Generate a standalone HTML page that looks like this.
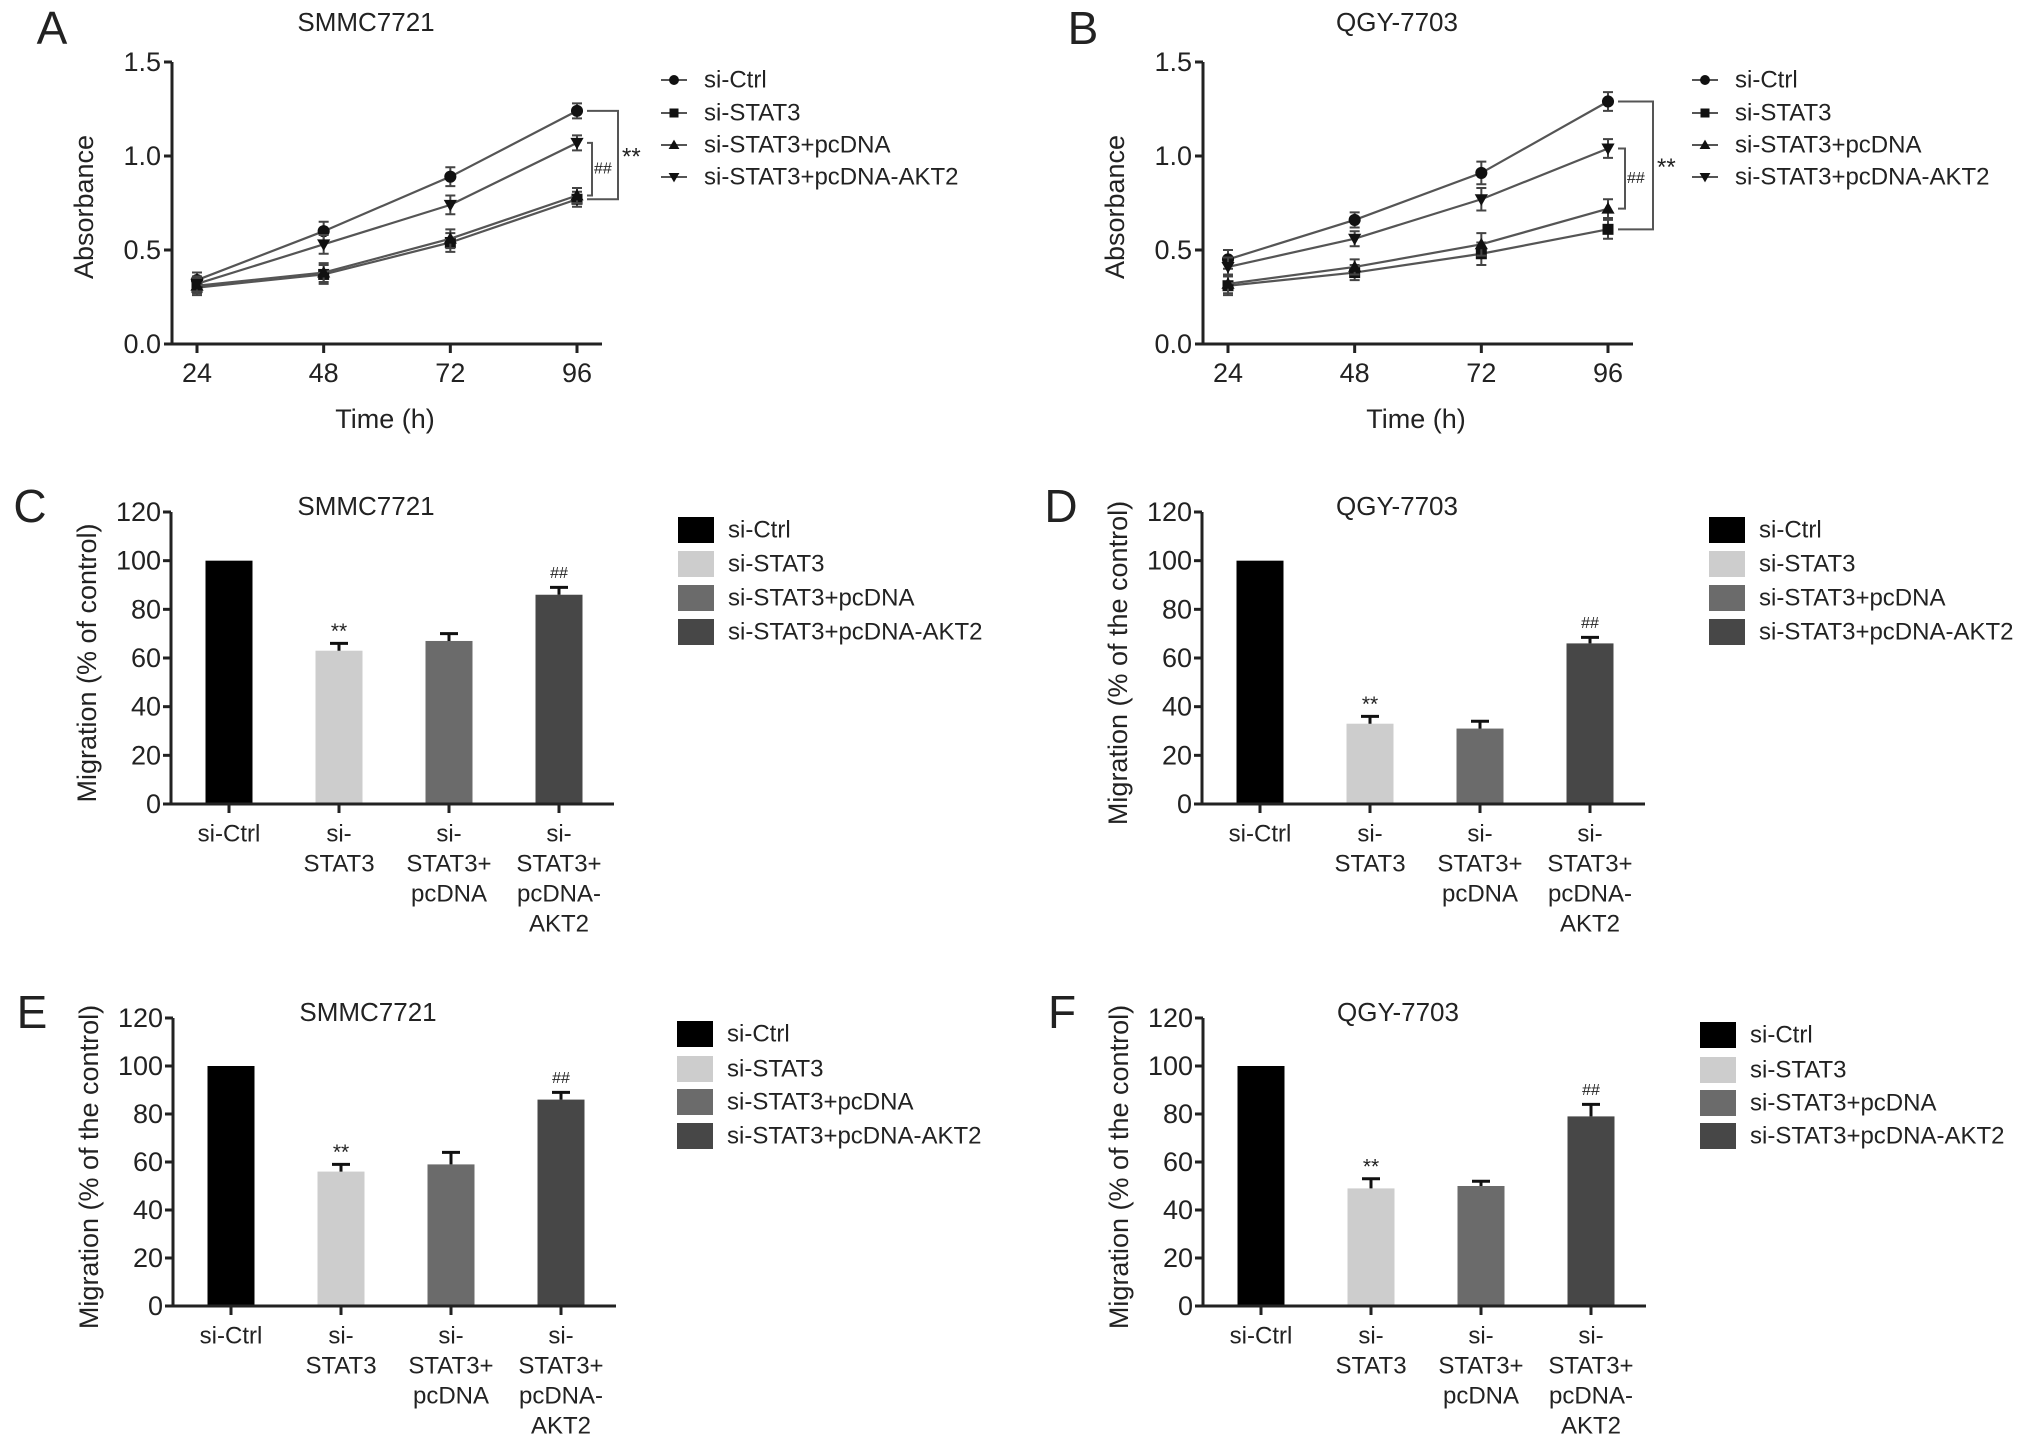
<!DOCTYPE html>
<html><head><meta charset="utf-8"><style>
html,body{margin:0;padding:0;background:#fff}
svg{display:block}
text{font-family:"Liberation Sans",Arial,sans-serif;fill:#222}
</style></head><body>
<svg id="fig" width="2032" height="1447" viewBox="0 0 2032 1447" xmlns="http://www.w3.org/2000/svg"></svg>
<script>
// ---- data ----
const timeCats = [24, 48, 72, 96];
const absTicks = [0.0, 0.5, 1.0, 1.5];
const seriesNames = ['si-Ctrl', 'si-STAT3', 'si-STAT3+pcDNA', 'si-STAT3+pcDNA-AKT2'];
const A_ctrl = [0.34, 0.60, 0.89, 1.24];
const A_stat3 = [0.30, 0.37, 0.54, 0.77];
const A_pcdna = [0.31, 0.38, 0.56, 0.79];
const A_akt2 = [0.32, 0.53, 0.74, 1.07];
const A_err = [0.04, 0.05, 0.05, 0.04];
const B_ctrl = [0.45, 0.66, 0.91, 1.29];
const B_stat3 = [0.31, 0.38, 0.48, 0.61];
const B_pcdna = [0.32, 0.41, 0.53, 0.72];
const B_akt2 = [0.41, 0.56, 0.77, 1.04];
const B_err = [0.05, 0.04, 0.06, 0.05];
const barCats = [['si-Ctrl'], ['si-', 'STAT3'], ['si-', 'STAT3+', 'pcDNA'], ['si-', 'STAT3+', 'pcDNA-', 'AKT2']];
const migTicks = [0, 20, 40, 60, 80, 100, 120];
const C_vals = [100, 63, 67, 86];
const C_err = [0, 3, 3, 3];
const D_vals = [100, 33, 31, 66];
const D_err = [0, 3, 3, 2.5];
const E_vals = [100, 56, 59, 86];
const E_err = [0, 3, 5, 3];
const F_vals = [100, 49, 50, 79];
const F_err = [0, 4, 2, 5];
const barColors = ['#000000', '#cdcdcd', '#6b6b6b', '#474747'];
const barMarks = ['', '**', '', '##'];

const NS = 'http://www.w3.org/2000/svg';
const svg = document.getElementById('fig');
function mk(tag, attrs, parent, txt) {
  const e = document.createElementNS(NS, tag);
  for (const k in attrs) e.setAttribute(k, attrs[k]);
  if (txt !== undefined) e.textContent = txt;
  (parent || svg).appendChild(e);
  return e;
}
function txt(x, y, s, size, anchor, parent, extra) {
  const a = Object.assign({x: x, y: y, 'font-size': size, 'text-anchor': anchor || 'start', 'dominant-baseline': 'central'}, extra || {});
  return mk('text', a, parent, s);
}
function marker(g, kind, x, y, s) {
  let e;
  if (kind === 0) e = mk('circle', {cx: x, cy: y, r: s * 0.55, fill: '#111'}, g);
  else if (kind === 1) e = mk('rect', {x: x - s / 2, y: y - s / 2, width: s, height: s, fill: '#111'}, g);
  else if (kind === 2) e = mk('polygon', {points: `${x},${y - s * 0.6} ${x - s * 0.6},${y + s * 0.45} ${x + s * 0.6},${y + s * 0.45}`, fill: '#111'}, g);
  else e = mk('polygon', {points: `${x},${y + s * 0.6} ${x - s * 0.6},${y - s * 0.45} ${x + s * 0.6},${y - s * 0.45}`, fill: '#111'}, g);
  return e;
}

function linePanel(id, ax, letter, title, series, err, br) {
  const g = mk('g', {});
  
  
  const y0 = 344, yTop = 62;
  const xs = v => ax + 25 + (v - 24) / 72 * 380;
  const ys = v => y0 - v / 1.5 * (y0 - yTop);
  const lab = txt(ax - 120, 28, letter, 46, 'middle', g);
  
  
  const t = txt(ax + 194, 22, title, 26, 'middle', g);
  
  
  const axes = mk('path', {d: `M${ax},${yTop} V${y0} H${ax + 430}`, stroke: '#222', 'stroke-width': 3, fill: 'none'}, g);
  
  
  absTicks.forEach(v => {
    mk('line', {x1: ax - 8, x2: ax, y1: ys(v), y2: ys(v), stroke: '#222', 'stroke-width': 3}, g);
    const tl = txt(ax - 11, ys(v), v.toFixed(1), 27, 'end', g);
    
    
  });
  timeCats.forEach(c => {
    mk('line', {x1: xs(c), x2: xs(c), y1: y0, y2: y0 + 9, stroke: '#222', 'stroke-width': 3}, g);
    const tl = txt(xs(c), 373, String(c), 27, 'middle', g);
    
    
  });
  const xt = txt(ax + 213, 419, 'Time (h)', 27, 'middle', g);
  
  
  const yt = txt(0, 0, 'Absorbance', 27, 'middle', g, {transform: `translate(${ax - 88},207) rotate(-90)`});
  
  
  series.forEach((vals, k) => {
    const sg = mk('g', {}, g);
    
    
    const pts = vals.map((v, i) => `${xs(timeCats[i])},${ys(v)}`).join(' ');
    mk('polyline', {points: pts, fill: 'none', stroke: '#555', 'stroke-width': 2.2}, sg);
    vals.forEach((v, i) => {
      const x = xs(timeCats[i]);
      const e = err[i];
      mk('path', {d: `M${x},${ys(v + e)} V${ys(v - e)} M${x - 5},${ys(v + e)} H${x + 5} M${x - 5},${ys(v - e)} H${x + 5}`, stroke: '#444', 'stroke-width': 2, fill: 'none'}, sg);
      const m = marker(sg, k, x, ys(v), 11);
      
      
    });
  });
  const last = series.map(s => s[3]);
  const bg = mk('g', {}, g);
  
  
  const xo = ax + br[0], xi = ax + br[1];
  mk('path', {d: `M${xs(96) + 10},${ys(last[0])} H${xo} V${ys(last[1])} H${xs(96) + 10}`, stroke: '#555', 'stroke-width': 2, fill: 'none'}, bg);
  mk('path', {d: `M${xs(96) + 10},${ys(last[3])} H${xi} V${ys(last[2])} H${xs(96) + 10}`, stroke: '#555', 'stroke-width': 2, fill: 'none'}, bg);
  txt(xo + 4, (ys(last[0]) + ys(last[1])) / 2 + 2, '**', 24, 'start', bg);
  txt(xi + 2, (ys(last[3]) + ys(last[2])) / 2, '##', 16, 'start', bg, {fill: '#777'});
  const lg = mk('g', {}, g);
  
  
  const lx = ax + 489;
  [80, 113, 145, 177].forEach((y, k) => {
    const eg = mk('g', {}, lg);
    
    
    mk('line', {x1: lx, x2: lx + 26, y1: y, y2: y, stroke: '#555', 'stroke-width': 2}, eg);
    marker(eg, k, lx + 13, y, 9);
    txt(lx + 43, y, seriesNames[k], 24, 'start', eg);
  });
}

function barPanel(id, ax, y0, yTop, letter, title, ytitle, vals, err, legY, legX) {
  const g = mk('g', {});
  
  
  const ys = v => y0 - v / 120 * (y0 - yTop);
  const xc = i => ax + 58 + 110 * i;
  const lab = txt(ax - 141, yTop - 6, letter, 46, 'middle', g);
  
  
  const t = txt(ax + 195, yTop - 6, title, 26, 'middle', g);
  
  
  vals.forEach((v, i) => {
    const x = xc(i);
    const b = mk('rect', {x: x - 23.5, y: ys(v), width: 47, height: y0 - ys(v), fill: barColors[i]}, g);
    
    
    if (err[i] > 0) {
      mk('path', {d: `M${x},${ys(v)} V${ys(v + err[i])} M${x - 9},${ys(v + err[i])} H${x + 9}`, stroke: '#111', 'stroke-width': 3, fill: 'none'}, g);
    }
    if (barMarks[i]) {
      const sm = txt(x, ys(v + err[i]) - (barMarks[i] === '**' ? 12 : 14), barMarks[i], barMarks[i] === '**' ? 21 : 16, 'middle', g, barMarks[i] === '##' ? {fill: '#777'} : {});
      
      
    }
  });
  const axes = mk('path', {d: `M${ax},${yTop} V${y0} H${ax + 443}`, stroke: '#222', 'stroke-width': 3, fill: 'none'}, g);
  
  
  migTicks.forEach(v => {
    mk('line', {x1: ax - 8, x2: ax, y1: ys(v), y2: ys(v), stroke: '#222', 'stroke-width': 3}, g);
    const tl = txt(ax - 10, ys(v), String(v), 27, 'end', g);
    
    
  });
  barCats.forEach((lines, i) => {
    mk('line', {x1: xc(i), x2: xc(i), y1: y0, y2: y0 + 9, stroke: '#222', 'stroke-width': 3}, g);
    lines.forEach((s, j) => {
      const tl = txt(xc(i), y0 + 30 + 30 * j, s, 24, 'middle', g);
      
      
    });
  });
  const yt = txt(0, 0, ytitle, 27, 'middle', g, {transform: `translate(${ax - 84},${(y0 + yTop) / 2 + 5}) rotate(-90)`});
  
  
  const lg = mk('g', {}, g);
  
  
  const lx = legX;
  legY.forEach((y, k) => {
    const eg = mk('g', {}, lg);
    
    
    mk('rect', {x: lx, y: y - 13, width: 36, height: 26, fill: barColors[k]}, eg);
    txt(lx + 50, y, seriesNames[k], 24, 'start', eg);
  });
}

linePanel('a', 172, 'A', 'SMMC7721', [A_ctrl, A_stat3, A_pcdna, A_akt2], A_err, [446, 420]);
linePanel('b', 1203, 'B', 'QGY-7703', [B_ctrl, B_stat3, B_pcdna, B_akt2], B_err, [450, 422]);
barPanel('c', 171, 804, 512, 'C', 'SMMC7721', 'Migration (% of control)', C_vals, C_err, [530, 564, 598, 632], 678);
barPanel('d', 1202, 804, 512, 'D', 'QGY-7703', 'Migration (% of the control)', D_vals, D_err, [530, 564, 598, 632], 1709);
barPanel('e', 173, 1306, 1018, 'E', 'SMMC7721', 'Migration (% of the control)', E_vals, E_err, [1034, 1069, 1102, 1136], 677);
barPanel('f', 1203, 1306, 1018, 'F', 'QGY-7703', 'Migration (% of the control)', F_vals, F_err, [1035, 1070, 1103, 1136], 1700);
</script>
</body></html>
